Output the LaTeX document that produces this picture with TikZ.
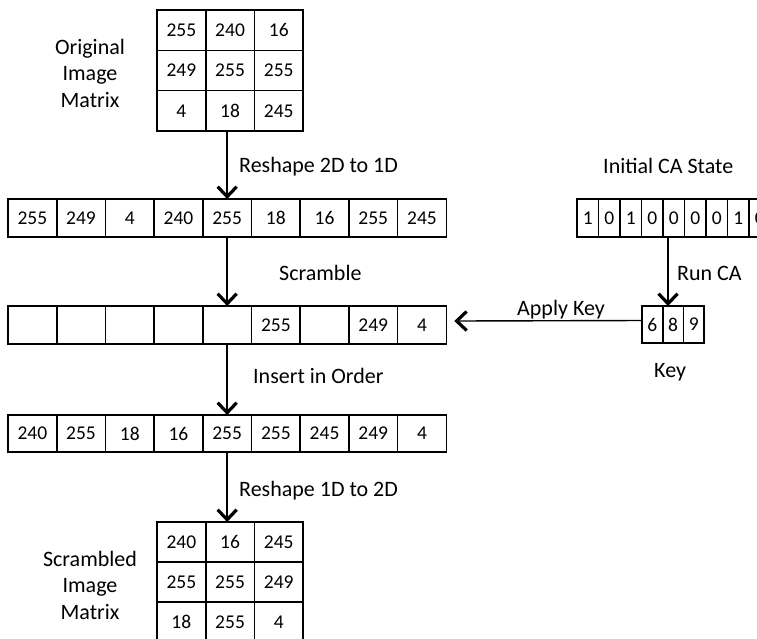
\documentclass[tikz,border=0pt]{standalone}
\usepackage{fontspec}
\setmainfont{Carlito}
\usetikzlibrary{arrows.meta}
\newcommand\cellfnt{\fontsize{19.5}{21}\selectfont}
\newcommand\labfnt{\fontsize{22}{26.5}\selectfont}
\tikzset{
  cell/.style={draw, line width=1.6pt, minimum width=48.7pt, minimum height=38pt,
    inner sep=0pt, outer sep=0pt, font=\cellfnt},
  mcell/.style={cell, minimum height=40.3pt},
  ccell/.style={cell, minimum width=21.5pt},
  kcell/.style={cell, minimum width=20.7pt, minimum height=37pt},
  arr/.style={line width=1.4pt, -{Straight Barb[length=10pt,width=19pt,line width=3.2pt]}},
  lab/.style={font=\labfnt, inner sep=0pt, anchor=base west},
  blab/.style={font=\labfnt, inner sep=0pt, align=center}
}
\begin{document}
\begin{tikzpicture}[x=1pt,y=-1pt]
\useasboundingbox (0,0) rectangle (757,638);
\clip (0,0) rectangle (757,638);
% top matrix
\foreach \a/\b/\c [count=\r] in {255/240/16,249/255/255,4/18/245}{
  \node[mcell] (tm-\r-1) at ({157+48.7*0.5},{10+40.3*(\r-0.5)}) {\a};
  \node[mcell] (tm-\r-2) at ({157+48.7*1.5},{10+40.3*(\r-0.5)}) {\b};
  \node[mcell] (tm-\r-3) at ({157+48.7*2.5},{10+40.3*(\r-0.5)}) {\c};
}
\node[blab] (tlab) at (90,73) {Original\\Image\\Matrix};
% row 1
\foreach \v [count=\i] in {255,249,4,240,255,18,16,255,245}
  \node[cell] (r1-\i) at ({8+48.7*(\i-0.5)},218) {\v};
% row 2
\foreach \v [count=\i] in {{},{},{},{},{},255,{},249,4}
  \node[cell] (r2-\i) at ({8+48.7*(\i-0.5)},325) {\v};
% row 3
\foreach \v [count=\i] in {240,255,18,16,255,255,245,249,4}
  \node[cell, minimum height=37pt] (r3-\i) at ({8+48.7*(\i-0.5)},433.5) {\v};
% bottom matrix
\foreach \a/\b/\c [count=\r] in {240/16/245,255/255/249,18/255/4}{
  \node[mcell, minimum height=40pt] (bm-\r-1) at ({157+48.7*0.5},{522+40*(\r-0.5)}) {\a};
  \node[mcell, minimum height=40pt] (bm-\r-2) at ({157+48.7*1.5},{522+40*(\r-0.5)}) {\b};
  \node[mcell, minimum height=40pt] (bm-\r-3) at ({157+48.7*2.5},{522+40*(\r-0.5)}) {\c};
}
\node[blab] (blab) at (90,585) {Scrambled\\Image\\Matrix};
% CA state
\foreach \v [count=\i] in {1,0,1,0,0,0,0,1,0}
  \node[ccell] (ca-\i) at ({577+21.5*(\i-0.5)},218) {\v};
\node[lab] (calab) at (603,173) {Initial CA State};
% key
\foreach \v [count=\i] in {6,8,9}
  \node[kcell] (key-\i) at ({642+20.7*(\i-0.5)},324.5) {\v};
\node[lab] (keylab) at (654,377) {Key};
% connectors
\draw[arr] (tm-3-2.south -| r1-5.north) -- (r1-5.north);
\draw[arr] (r1-5.south) -- (r2-5.north);
\draw[arr] (r2-5.south) -- (r3-5.north);
\draw[arr] (r3-5.south) -- (bm-1-2.north -| r3-5.south);
\draw[arr] ([xshift=-5pt]key-2.north |- ca-5.south) -- ([xshift=-5pt]key-2.north);
\draw[arr] ([yshift=4pt]key-1.west) -- ([yshift=4pt,xshift=8pt]r2-9.east);
% labels
\node[lab] (l1) at (239,172) {Reshape 2D to 1D};
\node[lab] (l2) at (279,280) {Scramble};
\node[lab] (l3) at (677,280) {Run CA};
\node[lab] (l4) at (517,315) {Apply Key};
\node[lab] (l5) at (253,383) {Insert in Order};
\node[lab] (l6) at (239,496) {Reshape 1D to 2D};
\end{tikzpicture}
\end{document}
